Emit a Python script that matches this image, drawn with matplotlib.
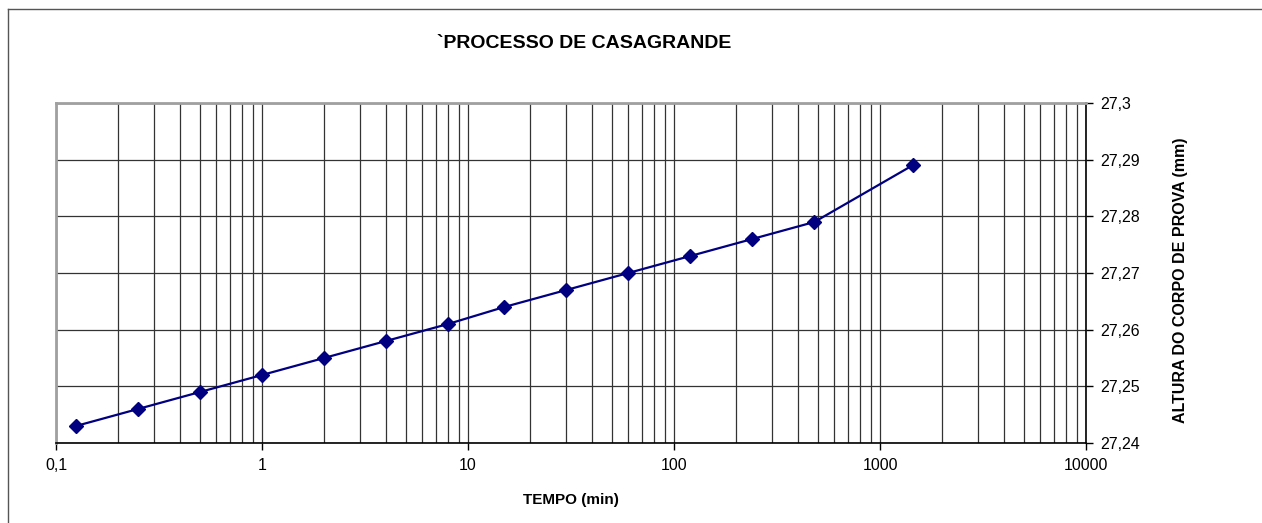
import numpy as np
import matplotlib.pyplot as plt
from matplotlib.ticker import FixedLocator, FuncFormatter, LogLocator, NullFormatter
from matplotlib.lines import Line2D

plt.rcParams['font.family'] = ['Liberation Sans', 'DejaVu Sans']

# leituras do ensaio de adensamento
tempo = [0.125, 0.25, 0.5, 1, 2, 4, 8, 15, 30, 60, 120, 240, 480, 1440]
altura = [27.243, 27.246, 27.249, 27.252, 27.255, 27.258, 27.261,
          27.264, 27.267, 27.270, 27.273, 27.276, 27.279, 27.289]

x_ticks = [0.1, 1, 10, 100, 1000, 10000]
y_ticks = [27.24, 27.25, 27.26, 27.27, 27.28, 27.29, 27.30]

fig = plt.figure(figsize=(12.62, 5.23), dpi=100)
ax = fig.add_axes([56/1262, 1-443/523, (1086-56)/1262, (443-103)/523])

ax.plot(tempo, altura, color='#000080', lw=1.6, marker='D', ms=7.5,
        mfc='#000080', mec='#000080', zorder=3)

ax.set_xscale('log')
ax.set_xlim(0.1, 10000)
ax.set_ylim(27.24, 27.30)

ax.xaxis.set_major_locator(FixedLocator(x_ticks))
ax.xaxis.set_minor_locator(LogLocator(base=10, subs=np.arange(2, 10)))
ax.xaxis.set_minor_formatter(NullFormatter())
ax.xaxis.set_major_formatter(FuncFormatter(lambda v, p: f"{v:g}".replace('.', ',')))
ax.yaxis.set_major_locator(FixedLocator(y_ticks))
ax.yaxis.set_major_formatter(FuncFormatter(lambda v, p: f"{round(v, 2):g}".replace('.', ',')))

ax.yaxis.tick_right()
ax.yaxis.set_label_position('right')
ax.tick_params(axis='both', which='major', direction='out', length=5, width=1,
               labelsize=11.5, color='black')
ax.tick_params(axis='x', which='minor', length=0)
ax.tick_params(axis='x', pad=6)
ax.tick_params(axis='y', pad=5)

ax.grid(True, which='major', color='#333333', lw=0.9)
ax.grid(True, which='minor', axis='x', color='#333333', lw=0.9)
ax.set_axisbelow(True)

for s in ['left', 'top']:
    ax.spines[s].set_color('#a0a0a0')
    ax.spines[s].set_linewidth(2)
for s in ['right', 'bottom']:
    ax.spines[s].set_color('black')
    ax.spines[s].set_linewidth(1.2)

ax.set_xlabel('TEMPO (min)', fontsize=11, fontweight='bold', labelpad=14)
ax.set_ylabel('ALTURA DO CORPO DE PROVA (mm)', fontsize=11.5, fontweight='bold',
              labelpad=24)
ax.yaxis.label.set_y(0.48)
fig.text(584/1262, 1-44/523, '`PROCESSO DE CASAGRANDE', ha='center', va='center',
         fontsize=14, fontweight='bold')

# moldura da área do gráfico
fig.add_artist(Line2D([8/1262, 8/1262], [0, 1-9/523], color='#555555', lw=1))
fig.add_artist(Line2D([8/1262, 1], [1-9/523, 1-9/523], color='#555555', lw=1))

fig.savefig('out.png', dpi=100)
